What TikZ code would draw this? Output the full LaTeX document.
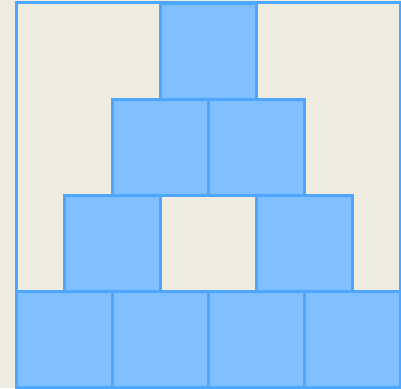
\documentclass[tikz,border=0pt]{standalone}
\definecolor{paper}{HTML}{EEEBE0}
\definecolor{blockfill}{HTML}{80BFFF}
\definecolor{blockline}{HTML}{4DA6FF}
\begin{document}
\begin{tikzpicture}[
  x=1pt, y=-1pt,
  block/.style={draw=blockline, fill=blockfill, line width=3pt, rectangle, minimum size=96pt, inner sep=0pt, outer sep=0pt},
  frame/.style={draw=blockline, line width=3pt, rectangle, minimum width=384pt, minimum height=385pt, inner sep=0pt},
]
\useasboundingbox[fill=paper] (0,0) rectangle (401,388);
\node[frame] (box) at (208, 194.5) {};

\node[block] (top) at (208, 51) {};
\node[block] (midl) at (160, 147) {};
\node[block] (midr) at (256, 147) {};
\node[block] (lowl) at (112, 243) {};
\node[block] (lowr) at (304, 243) {};
\node[block] (base1) at (64, 339) {};
\node[block] (base2) at (160, 339) {};
\node[block] (base3) at (256, 339) {};
\node[block] (base4) at (352, 339) {};
\end{tikzpicture}
\end{document}
